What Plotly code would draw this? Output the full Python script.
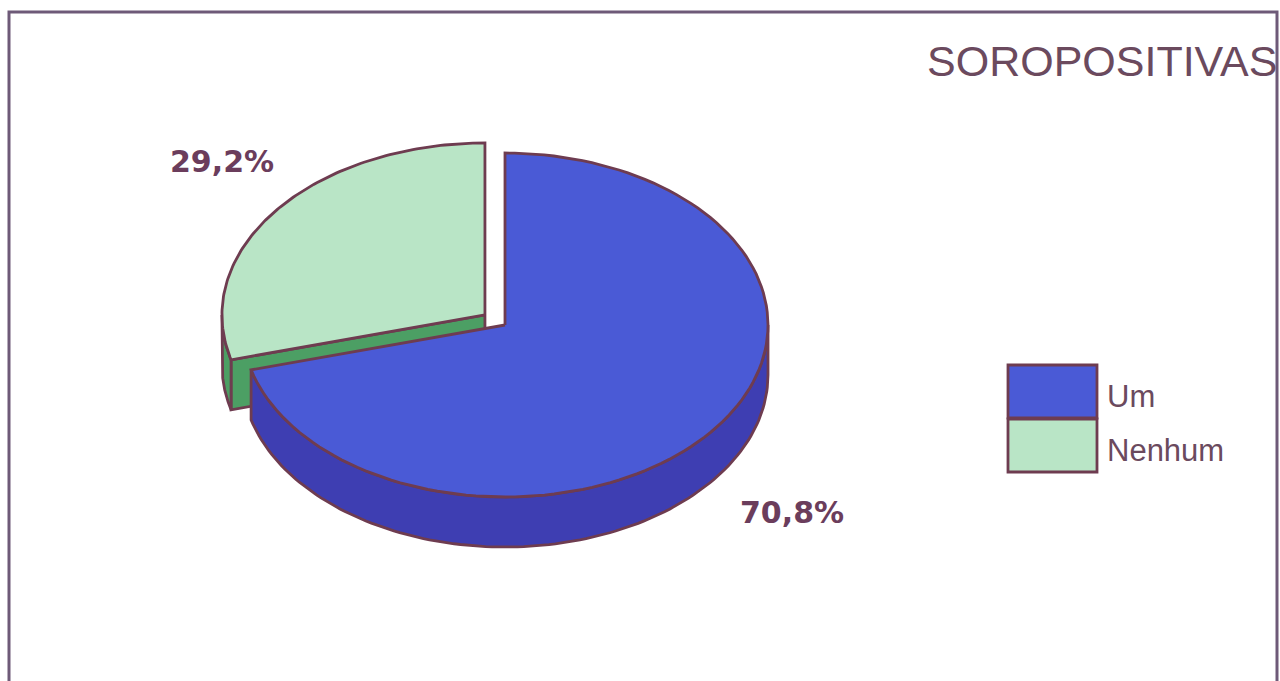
import numpy as np
import plotly.graph_objects as go

# ---- data ----
categories = ["Um", "Nenhum"]
values = [70.8, 29.2]
title_text = "SOROPOSITIVAS"

# ---- styles / layout (pixel space) ----
W, H = 1280, 681
CX, CY = 505, 325          # pie centre (top face)
RX, RY = 263, 172          # ellipse radii
DEPTH = 50                 # extrusion depth
EXPLODE = [0.0, 0.096]     # fraction of radius pulled out
top_colors = ["#4a5ad6", "#b9e5c6"]
side_colors = ["#3e3eb2", "#4c9f64"]
outline = "#6e3c50"
label_color = "#6b3d5c"
text_color = "#6b4a5e"
label_pos = [(792, 512), (222, 161)]

fig = go.Figure()


def pt(cx, cy, t, dy=0.0):
    r = np.radians(t)
    return cx + RX * np.sin(r), cy - RY * np.cos(r) + dy


def arc(cx, cy, t0, t1, dy=0.0, n=120):
    ts = np.linspace(t0, t1, n)
    xs, ys = pt(cx, cy, ts, dy)
    return list(xs), list(ys)


def poly(xs, ys, color, name):
    fig.add_trace(go.Scatter(
        x=xs + [xs[0]], y=ys + [ys[0]], mode="lines", fill="toself",
        fillcolor=color, line=dict(color=outline, width=2.8),
        hoverinfo="text", text=name, showlegend=False))


total = sum(values)
angles = []
acc = 0.0
for v in values:
    t0 = acc / total * 360
    acc += v
    t1 = acc / total * 360
    angles.append((t0, t1))

# draw back slice (exploded, upper-left) first, then front slice
order = sorted(range(len(values)), key=lambda i: -EXPLODE[i])
for i in order:
    t0, t1 = angles[i]
    mid = np.radians((t0 + t1) / 2)
    cx = CX + EXPLODE[i] * RX * np.sin(mid)
    cy = CY - EXPLODE[i] * RY * np.cos(mid)
    name = f"{categories[i]}: {values[i]:.1f}%".replace(".", ",")
    # radial faces
    for t, visible in ((t0, np.sin(np.radians(t0)) < -1e-6),
                       (t1, np.sin(np.radians(t1)) > 1e-6)):
        if visible:
            px, py = pt(cx, cy, t)
            poly([cx, px, px, cx], [cy, py, py + DEPTH, cy + DEPTH],
                 side_colors[i], name)
    # outer side face (front half: 90..270)
    a0, a1 = max(t0, 90), min(t1, 270)
    if a1 > a0:
        xt, yt = arc(cx, cy, a0, a1)
        xb, yb = arc(cx, cy, a1, a0, DEPTH)
        poly(xt + xb, yt + yb, side_colors[i], name)
    # top face
    xs, ys = arc(cx, cy, t0, t1)
    poly([cx] + xs, [cy] + ys, top_colors[i], name)

annotations = []
for i, v in enumerate(values):
    annotations.append(dict(
        x=label_pos[i][0], y=label_pos[i][1], xref="x", yref="y",
        text=f"<b>{v:.1f}%</b>".replace(".", ","), showarrow=False,
        font=dict(family="DejaVu Sans", size=30, color=label_color)))

annotations.append(dict(
    x=925, y=61, xref="x", yref="y", xanchor="left", text=title_text,
    showarrow=False, font=dict(family="Liberation Sans", size=43, color=text_color)))

shapes = [dict(type="rect", x0=9, y0=12, x1=1277, y1=700, xref="x", yref="y",
               line=dict(color="#6e5a78", width=3), layer="below")]
leg_y = [365, 419]
for i, c in enumerate(categories):
    shapes.append(dict(type="rect", x0=1008, x1=1097, y0=leg_y[i], y1=leg_y[i] + 53,
                       xref="x", yref="y", fillcolor=top_colors[i],
                       line=dict(color=outline, width=2.8)))
    annotations.append(dict(
        x=1105, y=leg_y[i] + 31, xref="x", yref="y", xanchor="left", text=c,
        showarrow=False, font=dict(family="Liberation Sans", size=31, color=text_color)))

fig.update_layout(
    width=W, height=H, margin=dict(l=0, r=0, t=0, b=0),
    paper_bgcolor="white", plot_bgcolor="white",
    xaxis=dict(range=[0, W], visible=False, fixedrange=True),
    yaxis=dict(range=[H, 0], visible=False, fixedrange=True),
    annotations=annotations, shapes=shapes, showlegend=False)

fig.write_html("out.html")
